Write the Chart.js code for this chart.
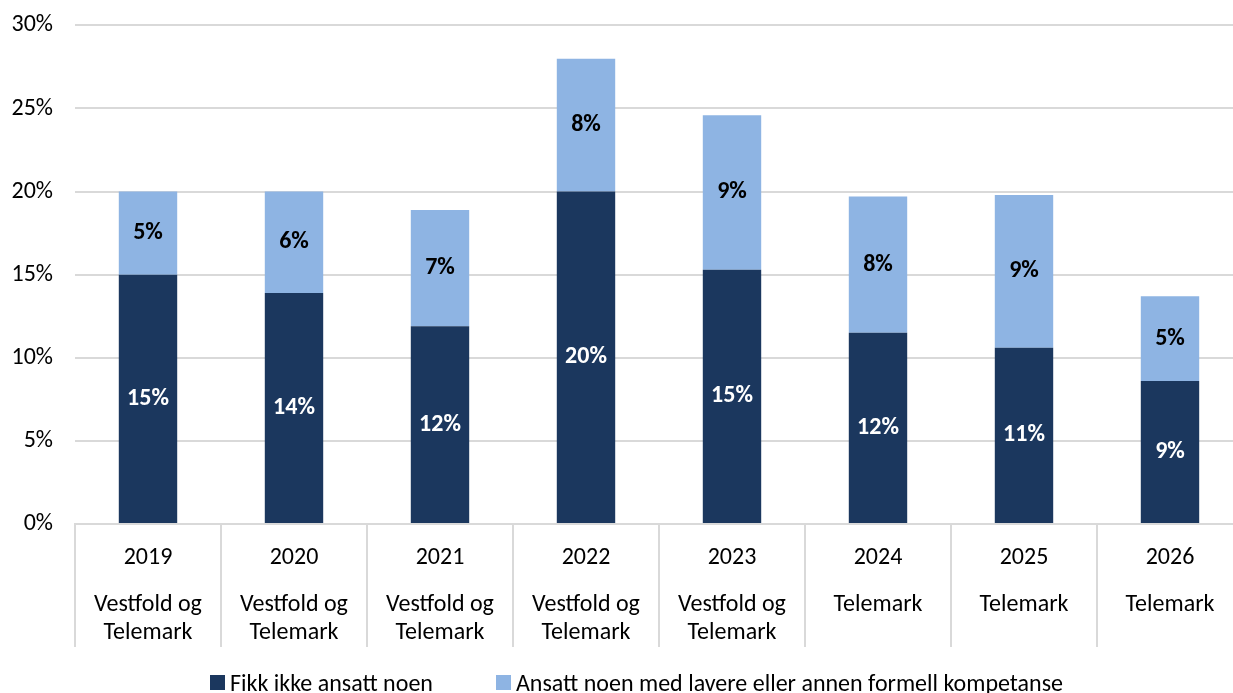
<!DOCTYPE html>
<html>
<head>
<meta charset="utf-8">
<script src="https://cdn.jsdelivr.net/npm/chart.js@4/dist/chart.umd.min.js"></script>
<style>
  html, body { margin: 0; padding: 0; background: #fff; overflow: hidden; }
  #wrap { position: relative; width: 1243px; height: 704px; margin-top: -11px; }
  #legend {
    position: absolute; left: 210px; top: 679px;
    display: flex; gap: 63px;
    font-family: Carlito, Calibri, Lato, sans-serif; font-size: 24px; color: #000;
    white-space: nowrap;
  }
  #legend .item { display: flex; align-items: center; }
  #legend .box { width: 15px; height: 15px; margin-right: 5px; }
</style>
</head>
<body>
<div id="wrap">
  <canvas id="chart"></canvas>
  <div id="legend"></div>
</div>
<script>
const YEARS = ['2019', '2020', '2021', '2022', '2023', '2024', '2025', '2026'];
const REGIONS = [
  ['Vestfold og', 'Telemark'], ['Vestfold og', 'Telemark'], ['Vestfold og', 'Telemark'],
  ['Vestfold og', 'Telemark'], ['Vestfold og', 'Telemark'],
  ['Telemark'], ['Telemark'], ['Telemark'],
];
const NOT_HIRED = [15.0, 13.9, 11.9, 20.0, 15.3, 11.5, 10.6, 8.6];
const HIRED_LOWER = [5.0, 6.1, 7.0, 8.0, 9.3, 8.2, 9.2, 5.1];
const Y_TICKS = [0, 5, 10, 15, 20, 25, 30];
const SERIES_NAMES = ['Fikk ikke ansatt noen', 'Ansatt noen med lavere eller annen formell kompetanse'];
const COLORS = ['#1b375e', '#8eb4e3'];

const FONT = "Carlito, Calibri, Lato, 'Open Sans', sans-serif";

// value labels in the middle of each bar segment
const barLabels = {
  id: 'barLabels',
  afterDatasetsDraw(chart) {
    const ctx = chart.ctx;
    ctx.save();
    ctx.font = 'bold 24px ' + FONT;
    ctx.textAlign = 'center';
    ctx.textBaseline = 'middle';
    chart.data.datasets.forEach((ds, di) => {
      const meta = chart.getDatasetMeta(di);
      ctx.fillStyle = di === 0 ? '#ffffff' : '#000000';
      meta.data.forEach((bar, i) => {
        ctx.fillText(Math.round(ds.data[i]) + '%', bar.x, (bar.y + bar.base) / 2);
      });
    });
    ctx.restore();
  }
};

// vertical separators between categories, down through both label rows
const separators = {
  id: 'separators',
  afterDraw(chart) {
    const x = chart.scales.x;
    const x2 = chart.scales.x2;
    const ctx = chart.ctx;
    ctx.save();
    ctx.strokeStyle = '#d9d9d9';
    ctx.lineWidth = 2;
    for (let i = 0; i <= YEARS.length; i++) {
      const px = Math.round(x.getPixelForValue(i - 0.5));
      ctx.beginPath();
      ctx.moveTo(px, x.top);
      ctx.lineTo(px, x2.bottom + 2);
      ctx.stroke();
    }
    ctx.restore();
  }
};

const tickFont = { family: FONT, size: 24, lineHeight: '28px' };

new Chart(document.getElementById('chart'), {
  type: 'bar',
  data: {
    labels: YEARS,
    datasets: [
      { label: SERIES_NAMES[0], data: NOT_HIRED, backgroundColor: COLORS[0], borderWidth: 0 },
      { label: SERIES_NAMES[1], data: HIRED_LOWER, backgroundColor: COLORS[1], borderWidth: 0 },
    ],
  },
  options: {
    responsive: true,
    maintainAspectRatio: false,
    animation: false,
    datasets: { bar: { categoryPercentage: 1.0, barPercentage: 0.4 } },
    layout: { padding: { top: 0, left: 10, right: 0, bottom: 48 } },
    plugins: {
      legend: { display: false },
      tooltip: { enabled: false },
    },
    scales: {
      x: {
        stacked: true,
        offset: true,
        grid: { display: false, drawTicks: false, tickLength: 0 },
        border: { display: true, color: '#d9d9d9', width: 2 },
        ticks: { padding: 20, color: '#000', maxRotation: 0, autoSkip: false, font: tickFont },
        afterFit(scale) { scale.height = 48; },
      },
      x2: {
        type: 'category',
        position: 'bottom',
        labels: REGIONS,
        offset: true,
        grid: { display: false, drawTicks: false, tickLength: 0 },
        border: { display: false },
        ticks: { padding: 19, color: '#000', maxRotation: 0, autoSkip: false, font: tickFont },
        afterFit(scale) { scale.height = 73; },
      },
      y: {
        stacked: true,
        min: 0,
        max: 30,
        afterBuildTicks(scale) {
          scale.ticks = Y_TICKS.map(v => ({ value: v }));
        },
        afterFit(scale) { scale.width = 65; },
        grid: { color: '#d9d9d9', lineWidth: 2, drawTicks: false },
        border: { display: false },
        ticks: {
          padding: 22,
          color: '#000',
          font: { family: FONT, size: 24 },
          callback: v => v + '%',
        },
      },
    },
  },
  plugins: [barLabels, separators],
});

// legend as plain HTML under the chart
const legend = document.getElementById('legend');
SERIES_NAMES.forEach((name, i) => {
  const item = document.createElement('div');
  item.className = 'item';
  const box = document.createElement('span');
  box.className = 'box';
  box.style.background = COLORS[i];
  const text = document.createElement('span');
  text.textContent = name;
  item.appendChild(box);
  item.appendChild(text);
  legend.appendChild(item);
});
</script>
</body>
</html>
